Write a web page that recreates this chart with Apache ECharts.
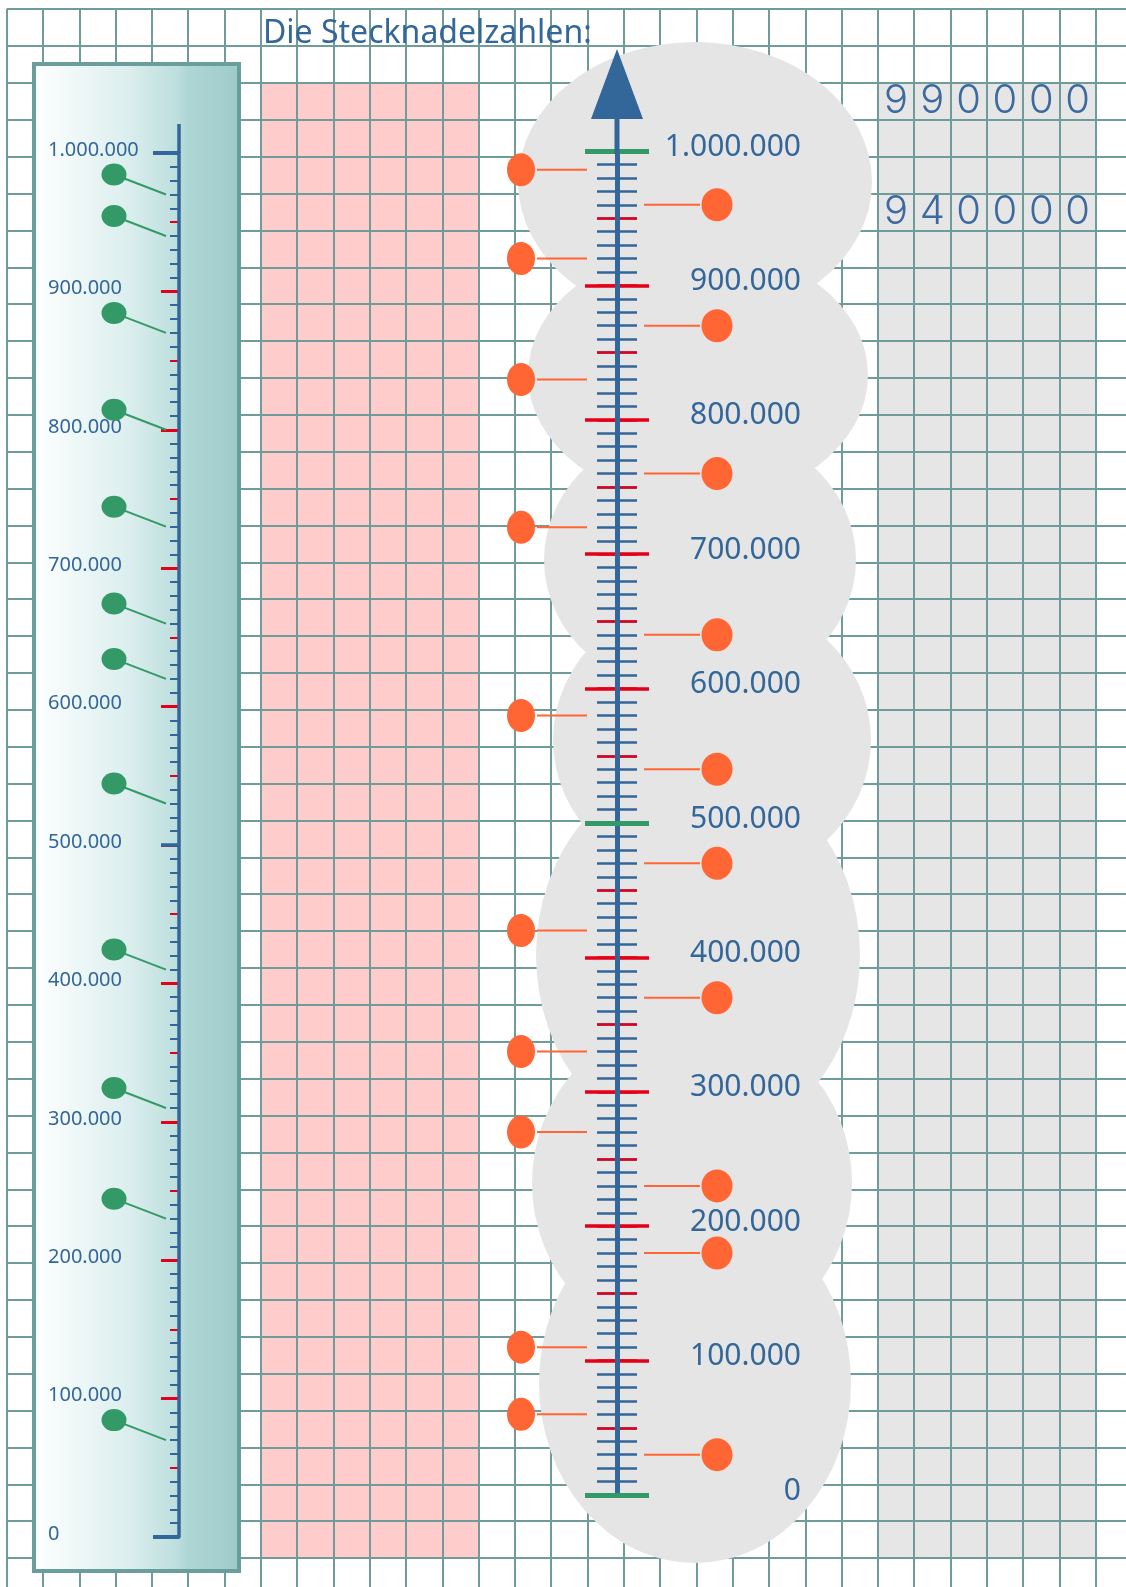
<!DOCTYPE html>
<html>
<head>
<meta charset="utf-8">
<title>Die Stecknadelzahlen</title>
<script src="https://cdn.jsdelivr.net/npm/echarts@6/dist/echarts.min.js"></script>
<style>
  html, body { margin: 0; padding: 0; background: #fff; }
  #chart { width: 1126px; height: 1587px; }
</style>
</head>
<body>
<div id="chart"></div>
<script>
'use strict';

// tick labels, german thousands separator
let rulerLabels = ['0', '100.000', '200.000', '300.000', '400.000', '500.000',
    '600.000', '700.000', '800.000', '900.000', '1.000.000'];
let scaleLabels = ['0', '100.000', '200.000', '300.000', '400.000', '500.000',
    '600.000', '700.000', '800.000', '900.000', '1.000.000'];

// green pins on the small ruler (left)
let greenPins = [970000, 940000, 870000, 800000, 730000, 660000, 620000, 530000, 410000, 310000, 230000, 70000];

// orange pins on the big number line
let orangeLeft = [986000, 920000, 830000, 720000, 580000, 420000, 330000, 270000, 110000, 60000];
let orangeRight = [960000, 870000, 760000, 640000, 540000, 470000, 370000, 230000, 180000, 30000];

// written answers in the boxes top right
let answers = ['990000', '940000'];

let blue = '#336699', red = '#e3001b', green = '#339966', orange = '#ff6633';
let paperLine = '#6f9c9a', grey = '#e5e5e5', pink = '#ffcccc';
let labelFont = '"Noto Sans", sans-serif';

// squared paper
let paperX = 6.7, paperY = 9.1, cellW = 36.3, cellH = 36.88;

let myChart = echarts.init(document.getElementById('chart'), null, {renderer: 'canvas'});

let scaleAxis = function (gridIndex, z, interval, opts) {
    return Object.assign({
        gridIndex: gridIndex, type: 'value', min: 0, max: 1000000, interval: interval,
        position: 'left', z: z,
        axisLine: {show: false, onZero: false},
        axisTick: {show: false},
        minorTick: {show: false},
        axisLabel: {show: false},
        splitLine: {show: false},
        minorSplitLine: {show: false}
    }, opts);
};

let paperAxis = function (max) {
    return {
        gridIndex: 0, type: 'value', min: 0, max: max, interval: 1, z: 1,
        axisLine: {show: false}, axisTick: {show: false}, axisLabel: {show: false},
        splitLine: {show: true, lineStyle: {color: paperLine, width: 2}}
    };
};

let hiddenX = function (gridIndex) {
    return {gridIndex: gridIndex, type: 'value', min: 0, max: 1, show: false};
};

// pin with a horizontal needle, side = -1 left / 1 right
let orangePin = function (side) {
    return function (params, api) {
        let p = api.coord([0, api.value(1)]);
        let x1 = side < 0 ? p[0] - 80 : p[0] + 27;
        let x2 = side < 0 ? p[0] - 30 : p[0] + 83;
        return {
            type: 'group',
            children: [
                {type: 'line', shape: {x1: x1, y1: p[1], x2: x2, y2: p[1]},
                    style: {stroke: orange, lineWidth: 2}},
                {type: 'circle', shape: {cx: 0, cy: 0, r: 1},
                    x: p[0] + side * (side < 0 ? 96 : 100), y: p[1],
                    scaleX: side < 0 ? 14 : 15.5, scaleY: 16.5,
                    style: {fill: orange}}
            ]
        };
    };
};

let greenPin = function (params, api) {
    let p = api.coord([0, api.value(1)]);
    return {
        type: 'group',
        children: [
            {type: 'line', shape: {x1: p[0] - 65, y1: p[1] - 20, x2: p[0] - 13, y2: p[1]},
                style: {stroke: green, lineWidth: 2}},
            {type: 'circle', shape: {cx: 0, cy: 0, r: 1}, x: p[0] - 65, y: p[1] - 20,
                scaleX: 12.5, scaleY: 11, style: {fill: green}}
        ]
    };
};

// grey cloud behind the number line
let blobs = [
    [695, 182, 177, 140], [698, 375, 170, 128], [700, 560, 156, 136],
    [712, 740, 159, 145], [698, 955, 162, 190], [692, 1183, 160, 165],
    [695, 1383, 156, 180]
];

let graphics = [
    {type: 'rect', z: 0, silent: true,
        shape: {x: paperX + 7 * cellW, y: paperY + 2 * cellH, width: 6 * cellW, height: 40 * cellH},
        style: {fill: pink}},
    {type: 'rect', z: 0, silent: true,
        shape: {x: paperX + 24 * cellW, y: paperY + 2 * cellH, width: 6 * cellW, height: 40 * cellH},
        style: {fill: '#e6e6e6'}},
    {type: 'rect', z: 2, silent: true,
        shape: {x: 34, y: 64, width: 205, height: 1507},
        style: {
            fill: new echarts.graphic.LinearGradient(0, 0, 1, 0, [
                {offset: 0, color: '#ffffff'},
                {offset: 0.45, color: '#dcefee'},
                {offset: 0.7, color: '#bcdedd'},
                {offset: 0.74, color: '#aed6d5'},
                {offset: 1, color: '#9dcbca'}
            ]),
            stroke: '#6a9e9c', lineWidth: 4
        }},
    {type: 'text', z: 10, x: 263, y: 34, silent: true,
        style: {text: 'Die Stecknadelzahlen:', fill: blue, fontSize: 32,
            fontFamily: '"Comic Sans MS", "Noto Sans", sans-serif',
            align: 'left', verticalAlign: 'middle'}}
];

blobs.forEach(function (b) {
    graphics.push({type: 'circle', z: 2, silent: true, shape: {cx: 0, cy: 0, r: 1},
        x: b[0], y: b[1], scaleX: b[2], scaleY: b[3], style: {fill: grey}});
});

answers.forEach(function (row, r) {
    row.split('').forEach(function (ch, i) {
        graphics.push({type: 'text', z: 10, silent: true,
            x: paperX + cellW * (24.5 + i), y: paperY + cellH * (2.5 + 3 * r),
            style: {text: ch, fill: '#3d6a9e', fontSize: 40, fontWeight: 300,
                fontFamily: 'Inter, Lato, sans-serif', align: 'center', verticalAlign: 'middle'}});
    });
});

let option = {
    animation: false,
    backgroundColor: '#ffffff',
    grid: [
        {left: paperX, top: paperY, width: 31 * cellW, height: 43 * cellH, outerBoundsMode: 'none'},
        {left: 179, top: 153, width: 10, height: 1384, outerBoundsMode: 'none'},
        {left: 617, top: 151, width: 10, height: 1344, outerBoundsMode: 'none'}
    ],
    xAxis: [paperAxis(31), hiddenX(1), hiddenX(2)],
    yAxis: [
        paperAxis(43),
        // small ruler
        scaleAxis(1, 5, 100000, {
            axisTick: {show: true, length: 18, lineStyle: {color: red, width: 3}},
            minorTick: {show: true, splitNumber: 10, length: 9, lineStyle: {color: blue, width: 2}},
            axisLabel: {
                show: true, margin: 131, align: 'left', verticalAlign: 'bottom', lineHeight: 6,
                color: blue, fontSize: 20, fontFamily: labelFont,
                formatter: function (v) { return rulerLabels[Math.round(v / 100000)]; }
            }
        }),
        scaleAxis(1, 6, 50000, {axisTick: {show: true, length: 9, lineStyle: {color: red, width: 2}}}),
        scaleAxis(1, 7, 500000, {axisTick: {show: true, length: 18, lineStyle: {color: blue, width: 3.5}}}),
        scaleAxis(1, 8, 1000000, {
            axisTick: {show: true, length: 26, lineStyle: {color: blue, width: 4}},
            axisLine: {show: true, onZero: false, symbol: ['none', 'rect'], symbolSize: [3.5, 29],
                symbolOffset: [0, 14.5], lineStyle: {color: blue, width: 3.5}}
        }),
        // big number line, ticks on both sides
        scaleAxis(2, 5, 100000, {
            axisTick: {show: true, length: 32, lineStyle: {color: red, width: 3.5}},
            minorTick: {show: true, splitNumber: 10, length: 20, lineStyle: {color: blue, width: 2.5}}
        }),
        scaleAxis(2, 5, 100000, {
            axisTick: {show: true, inside: true, length: 32, lineStyle: {color: red, width: 3.5}},
            minorTick: {show: true, splitNumber: 10, length: 20, lineStyle: {color: blue, width: 2.5}},
            axisLabel: {
                show: true, inside: true, margin: 184, align: 'right', verticalAlign: 'bottom', lineHeight: 8,
                color: blue, fontSize: 30, fontFamily: labelFont,
                formatter: function (v) { return scaleLabels[Math.round(v / 100000)]; }
            }
        }),
        scaleAxis(2, 6, 50000, {axisTick: {show: true, length: 20, lineStyle: {color: red, width: 2.5}}}),
        scaleAxis(2, 6, 50000, {axisTick: {show: true, inside: true, length: 20, lineStyle: {color: red, width: 2.5}}}),
        scaleAxis(2, 7, 500000, {axisTick: {show: true, length: 32, lineStyle: {color: green, width: 5}}}),
        scaleAxis(2, 7, 500000, {
            axisTick: {show: true, inside: true, length: 32, lineStyle: {color: green, width: 5}},
            axisLine: {show: true, onZero: false,
                symbol: ['none', 'path://M26,0L52,70L28.5,70L28.5,105L23.5,105L23.5,70L0,70Z'],
                symbolSize: [52, 105], symbolOffset: [0, 49.5],
                lineStyle: {color: blue, width: 5}}
        })
    ],
    graphic: {elements: graphics},
    series: [
        {type: 'custom', name: 'green', xAxisIndex: 1, yAxisIndex: 1, z: 10, clip: false, silent: true,
            data: greenPins.map(function (v) { return [0, v]; }), renderItem: greenPin},
        {type: 'custom', name: 'orangeLeft', xAxisIndex: 2, yAxisIndex: 5, z: 10, clip: false, silent: true,
            data: orangeLeft.map(function (v) { return [0, v]; }), renderItem: orangePin(-1)},
        {type: 'custom', name: 'orangeRight', xAxisIndex: 2, yAxisIndex: 5, z: 10, clip: false, silent: true,
            data: orangeRight.map(function (v) { return [0, v]; }), renderItem: orangePin(1)}
    ]
};

myChart.setOption(option);
</script>
</body>
</html>
